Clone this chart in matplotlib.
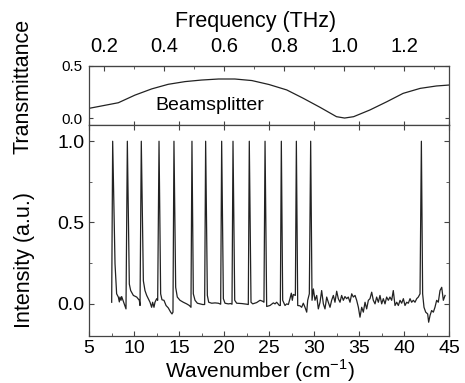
import matplotlib
matplotlib.use('Agg')
import matplotlib.pyplot as plt
from matplotlib.ticker import MultipleLocator, FixedLocator

plt.rcParams['font.family'] = ['Liberation Sans', 'DejaVu Sans']
plt.rcParams['mathtext.fontset'] = 'custom'
plt.rcParams['mathtext.rm'] = 'Liberation Sans'

# beamsplitter transmittance (wavenumber in cm^-1)
bs_wn = [5.0, 8.26, 10.1, 11.97, 13.8, 15.67, 17.5, 19.4, 21.2, 23.1, 25.0,
         26.97, 28.8, 30.67, 32.5, 33.4, 34.4, 36.2, 38.1, 39.9, 41.8, 43.6, 45.0]
bs_t = [0.093, 0.147, 0.22, 0.28, 0.324, 0.35, 0.365, 0.375, 0.375, 0.36, 0.322,
        0.27, 0.19, 0.103, 0.013, 0.0, 0.013, 0.077, 0.157, 0.237, 0.285, 0.308, 0.317]

# frequency ticks on the top axis (THz)
freq_major = [0.2, 0.4, 0.6, 0.8, 1.0, 1.2]
freq_minor = [0.3, 0.5, 0.7, 0.9, 1.1, 1.3]

# measured spectrum
spec_wn = [7.52, 7.63, 7.89, 8.07, 8.26, 8.37, 8.44, 8.56, 8.63,
           9.11, 9.26, 9.48, 9.63, 9.93, 10.30, 10.59, 10.67,
           10.81, 11.04, 11.22, 11.41, 11.59, 11.78, 11.96, 12.07, 12.22, 12.33, 12.52, 12.63,
           12.78, 12.96, 13.11, 13.33, 13.56, 13.81, 14.07, 14.22, 14.33,
           14.44, 14.63, 14.81, 15.11, 15.48, 15.85, 16.15, 16.33,
           16.44, 16.59, 16.78, 17.04, 17.33, 17.63, 17.85,
           17.96, 18.15, 18.30, 18.63, 19.0, 19.37, 19.63,
           19.74, 19.93, 20.11, 20.48, 20.74, 20.89,
           21.0, 21.19, 21.41, 21.96, 22.52, 22.70,
           22.81, 23.0, 23.19, 23.63, 24.0, 24.30, 24.44,
           24.56, 24.74, 25.11, 25.48, 25.67, 25.85, 26.15, 26.26,
           26.37, 26.52, 26.78, 26.96, 27.15, 27.33, 27.48, 27.59, 27.70, 27.93,
           28.04, 28.19, 28.44, 28.63, 28.81, 29.0, 29.19, 29.30, 29.48,
           29.63, 29.78, 29.93, 30.11, 30.30, 30.48, 30.67, 30.85, 31.04, 31.22,
           31.41, 31.59, 31.78, 31.96, 32.15, 32.33, 32.52, 32.70, 32.89, 33.07,
           33.26, 33.44, 33.63, 33.81, 34.0, 34.19, 34.37, 34.56, 34.74, 34.93,
           35.11, 35.30, 35.48, 35.67, 35.85, 36.04, 36.22, 36.41, 36.59, 36.78,
           36.96, 37.15, 37.33, 37.52, 37.70, 37.89, 38.07, 38.26, 38.44, 38.63,
           38.81, 39.0, 39.19, 39.37, 39.56, 39.74, 39.93, 40.11, 40.30, 40.48,
           40.67, 40.85, 41.04, 41.22, 41.41, 41.59, 41.78,
           41.93, 42.07, 42.22, 42.41, 42.63, 42.74, 42.89, 43.07, 43.26, 43.44,
           43.63, 43.81, 44.0, 44.19, 44.37, 44.56]
spec_int = [0.008, 1.0, 0.245, 0.06, 0.04, 0.01, 0.04, 0.02, 0.043,
            -0.033, 1.0, 0.12, 0.08, 0.05, 0.04, 0.02, -0.012,
            1.0, 0.14, 0.08, 0.05, 0.03, 0.008, -0.023, 0.008, -0.023, 0.008, 0.03, 0.02,
            1.0, 0.06, 0.023, 0.02, -0.012, -0.027, -0.053, -0.064, -0.053,
            1.0, 0.10, 0.04, 0.02, 0.008, -0.002, -0.012, -0.023,
            1.0, 0.06, 0.02, 0.002, -0.002, -0.006, -0.006,
            1.0, 0.05, 0.008, 0.002, 0.004, 0.002, -0.004,
            1.0, 0.03, 0.002, -0.002, 0.0, -0.004,
            1.0, 0.02, 0.002, 0.0, -0.004, -0.006,
            1.0, 0.008, -0.002, 0.006, 0.02, 0.014, 0.008,
            1.0, -0.018, -0.012, 0.004, -0.002, 0.008, -0.012, -0.012,
            1.0, 0.02, -0.012, -0.002, -0.006, 0.03, 0.064, 0.02, 0.056, 0.05,
            1.0, -0.012, -0.014, -0.023, 0.002, -0.023, -0.053, 0.02, 0.06,
            1.0, 0.02, 0.09, 0.02, 0.05, -0.033, 0.008, 0.08, -0.002, -0.033,
            0.04, 0.008, -0.023, 0.02, 0.05, 0.008, 0.076, 0.03, 0.008, 0.05,
            0.02, 0.043, 0.03, 0.04, 0.008, 0.06, 0.04, 0.05, 0.02, -0.023,
            -0.084, -0.023, -0.053, 0.008, -0.033, 0.02, 0.03, 0.07, 0.02, -0.002,
            0.04, 0.008, 0.05, -0.002, 0.03, -0.002, 0.04, 0.02, 0.04, 0.02,
            0.08, -0.012, 0.008, -0.012, 0.02, 0.002, 0.03, -0.012, 0.008, 0.002,
            0.03, 0.008, 0.02, 0.008, 0.03, 0.04, 0.06,
            1.0, 0.06, -0.023, -0.053, -0.064, -0.115, -0.074, -0.043, -0.053, -0.023,
            0.02, 0.008, 0.08, 0.10, 0.02, 0.05]

CM_PER_THZ = 33.356
line_col = '#222222'
spine_col = '#444444'

fig = plt.figure(figsize=(4.65, 3.83), dpi=100)
left, right = 0.1914, 0.9656
ax_top = fig.add_axes([left, 0.6736, right - left, 0.8277 - 0.6736])
ax = fig.add_axes([left, 0.1227, right - left, 0.6736 - 0.1227])

for a in (ax_top, ax):
    for s in a.spines.values():
        s.set_color(spine_col)
        s.set_linewidth(0.9)
    a.set_xlim(5, 45)
    a.xaxis.set_major_locator(MultipleLocator(5))

# upper panel
ax_top.plot(bs_wn, bs_t, color=line_col, lw=0.9)
ax_top.set_ylim(-0.067, 0.5)
ax_top.set_yticks([0.0, 0.5])
ax_top.tick_params(axis='y', direction='in', length=3, labelsize=11, pad=5,
                   right=True, colors=spine_col, labelcolor='black')
ax_top.tick_params(axis='x', direction='in', length=3, labelbottom=False,
                   colors=spine_col)
ax_top.text(18.4, 0.12, 'Beamsplitter', fontsize=14, ha='center', va='center')

sec = ax_top.secondary_xaxis('top', functions=(lambda w: w / CM_PER_THZ,
                                                lambda f: f * CM_PER_THZ))
sec.xaxis.set_major_locator(FixedLocator(freq_major))
sec.xaxis.set_minor_locator(FixedLocator(freq_minor))
sec.tick_params(axis='x', which='major', direction='in', length=3.5, labelsize=14.5, pad=7,
                colors=spine_col, labelcolor='black')
sec.tick_params(axis='x', which='minor', direction='in', length=2.5, colors=spine_col)
sec.spines['top'].set_color(spine_col)

# lower panel
ax.plot(spec_wn, spec_int, color=line_col, lw=0.9)
ax.set_ylim(-0.2, 1.1)
ax.yaxis.set_major_locator(MultipleLocator(0.5))
ax.yaxis.set_minor_locator(MultipleLocator(0.25))
ax.xaxis.set_minor_locator(MultipleLocator(2.5))
ax.tick_params(which='both', direction='in', top=True, right=True,
               colors=spine_col, labelcolor='black', labelsize=14)
ax.tick_params(which='major', length=3.5)
ax.tick_params(which='minor', length=2.5)
ax.tick_params(axis='x', which='minor', top=False)
ax.tick_params(axis='x', pad=3)
ax.tick_params(axis='y', pad=3)

fig.text(0.55, 0.945, 'Frequency (THz)', fontsize=15.5, ha='center', va='center')
fig.text(0.559, 0.032, 'Wavenumber (cm$^{-1}$)', fontsize=15, ha='center', va='center')
fig.text(0.05, 0.775, 'Transmittance', fontsize=15.5, ha='center', va='center', rotation=90)
fig.text(0.052, 0.32, 'Intensity (a.u.)', fontsize=15.5, ha='center', va='center', rotation=90)

fig.savefig('out.png', dpi=100)
